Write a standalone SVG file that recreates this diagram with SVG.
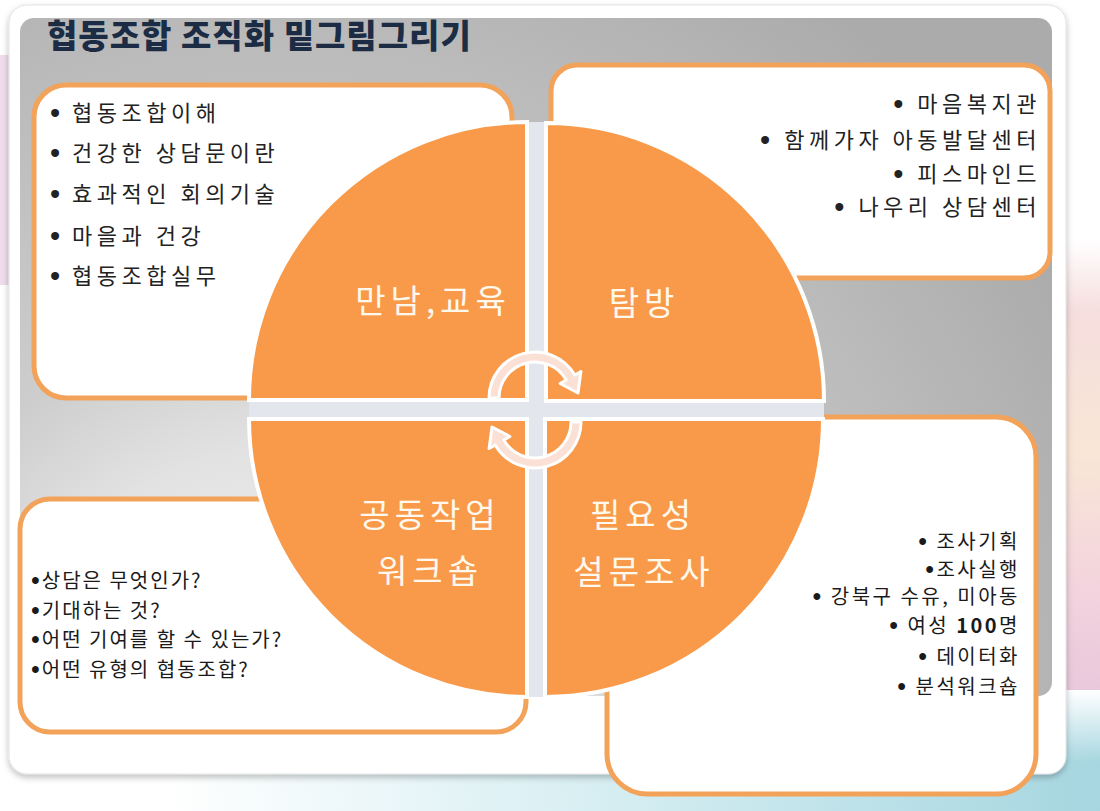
<svg xmlns="http://www.w3.org/2000/svg" width="1100" height="811" viewBox="0 0 1100 811">
<defs>
<style>
.kr{font-family:"Noto Sans CJK KR","Noto Sans",sans-serif;}
.title{font-size:33px;font-weight:900;fill:#1c2c45;letter-spacing:1px;}
.item{font-size:22px;fill:#222;letter-spacing:4.5px;}
.small{font-size:20px;fill:#1a1a1a;letter-spacing:2px;}
.sm2{font-size:20px;fill:#1a1a1a;letter-spacing:2.5px;}
.bul{font-family:"Liberation Sans",sans-serif;font-size:29px;}
.bs{font-family:"Liberation Sans",sans-serif;font-size:25px;}
.lab{font-size:33px;fill:#fff8ec;letter-spacing:5px;text-anchor:middle;}
.box{fill:#fff;stroke:#f2a259;stroke-width:5;}
.quad{fill:#f89a4a;stroke:#ffffff;stroke-width:4;}
.arrow{fill:#fbe0d6;stroke:#ffffff;stroke-width:3;stroke-linejoin:round;}
</style>
<radialGradient id="panelG" gradientUnits="userSpaceOnUse" cx="280" cy="720" r="900">
<stop offset="0" stop-color="#f6f6f6"/>
<stop offset="0.3" stop-color="#e2e2e2"/>
<stop offset="0.45" stop-color="#cdcdcd"/>
<stop offset="0.7" stop-color="#bebebe"/>
<stop offset="1" stop-color="#ababab"/>
</radialGradient>
<linearGradient id="rightG" x1="0" y1="0" x2="0" y2="1">
<stop offset="0" stop-color="#ffffff"/>
<stop offset="0.15" stop-color="#f6dede"/>
<stop offset="0.45" stop-color="#f9e6d6"/>
<stop offset="0.75" stop-color="#f3d3de"/>
<stop offset="1" stop-color="#e6c6da"/>
</linearGradient>
<linearGradient id="bottomG" x1="0" y1="0" x2="1" y2="0">
<stop offset="0.15" stop-color="#ffffff"/>
<stop offset="0.55" stop-color="#d6eef2"/>
<stop offset="1" stop-color="#a6d6e0"/>
</linearGradient>
<linearGradient id="fadeG" x1="0" y1="0" x2="0" y2="1">
<stop offset="0" stop-color="#ffffff" stop-opacity="1"/>
<stop offset="0.6" stop-color="#ffffff" stop-opacity="0"/>
</linearGradient>
<filter id="shadow" x="-5%" y="-5%" width="110%" height="115%">
<feDropShadow dx="0" dy="3" stdDeviation="3" flood-color="#000" flood-opacity="0.25"/>
</filter>
</defs>

<!-- background -->
<rect x="0" y="0" width="1100" height="811" fill="#ffffff"/>
<rect x="0" y="55" width="14" height="230" fill="#efdcec"/>
<rect x="1058" y="240" width="42" height="470" fill="url(#rightG)"/>
<rect x="0" y="690" width="1100" height="121" fill="url(#bottomG)"/>
<rect x="0" y="690" width="1100" height="121" fill="url(#fadeG)"/>

<!-- card and panel -->
<rect x="9" y="5" width="1057" height="769" rx="18" fill="#ffffff" stroke="#e2e2e2" stroke-width="1" filter="url(#shadow)"/>
<rect x="20" y="18" width="1032" height="678" rx="14" fill="url(#panelG)"/>

<text class="kr title" x="47" y="48">협동조합 조직화 밑그림그리기</text>

<!-- text boxes -->
<g id="box-education">
<rect class="box" x="34" y="85" width="478" height="313" rx="32"/>
<text class="kr item"><tspan class="bul" x="50" y="123">•</tspan><tspan x="72" y="121">협동조합이해</tspan></text>
<text class="kr item"><tspan class="bul" x="50" y="163">•</tspan><tspan x="72" y="161">건강한 상담문이란</tspan></text>
<text class="kr item"><tspan class="bul" x="50" y="204">•</tspan><tspan x="72" y="202">효과적인 회의기술</tspan></text>
<text class="kr item"><tspan class="bul" x="50" y="246">•</tspan><tspan x="72" y="244">마을과 건강</tspan></text>
<text class="kr item"><tspan class="bul" x="50" y="286">•</tspan><tspan x="72" y="284">협동조합실무</tspan></text>
</g>

<g id="box-visit">
<rect class="box" x="551" y="65" width="499" height="213" rx="26"/>
<text class="kr item" x="1041" y="112" text-anchor="end"><tspan class="bul" dy="2">•</tspan><tspan dy="-2"> 마음복지관</tspan></text>
<text class="kr item" x="1041" y="148" text-anchor="end"><tspan class="bul" dy="2">•</tspan><tspan dy="-2"> 함께가자 아동발달센터</tspan></text>
<text class="kr item" x="1041" y="182" text-anchor="end"><tspan class="bul" dy="2">•</tspan><tspan dy="-2"> 피스마인드</tspan></text>
<text class="kr item" x="1041" y="215" text-anchor="end"><tspan class="bul" dy="2">•</tspan><tspan dy="-2"> 나우리 상담센터</tspan></text>
</g>

<g id="box-workshop">
<rect class="box" x="20" y="499" width="506" height="233" rx="30"/>
<text class="kr small" x="31" y="588"><tspan class="bs" dy="1">•</tspan><tspan dy="-1">상담은 무엇인가?</tspan></text>
<text class="kr small" x="31" y="618"><tspan class="bs" dy="1">•</tspan><tspan dy="-1">기대하는 것?</tspan></text>
<text class="kr small" x="31" y="647"><tspan class="bs" dy="1">•</tspan><tspan dy="-1">어떤 기여를 할 수 있는가?</tspan></text>
<text class="kr small" x="31" y="677"><tspan class="bs" dy="1">•</tspan><tspan dy="-1">어떤 유형의 협동조합?</tspan></text>
</g>

<g id="box-survey">
<rect class="box" x="607" y="417" width="429" height="377" rx="40"/>
<text class="kr sm2" x="1020" y="549" text-anchor="end"><tspan class="bs" dy="1">•</tspan><tspan dy="-1"> 조사기획</tspan></text>
<text class="kr sm2" x="1020" y="577" text-anchor="end"><tspan class="bs" dy="1">•</tspan><tspan dy="-1">조사실행</tspan></text>
<text class="kr sm2" x="1020" y="604" text-anchor="end"><tspan class="bs" dy="1">•</tspan><tspan dy="-1"> 강북구 수유, 미아동</tspan></text>
<text class="kr sm2" x="1020" y="633" text-anchor="end"><tspan class="bs" dy="1">•</tspan><tspan dy="-1"> 여성 </tspan><tspan font-weight="bold">100</tspan>명</text>
<text class="kr sm2" x="1020" y="664" text-anchor="end"><tspan class="bs" dy="1">•</tspan><tspan dy="-1"> 데이터화</tspan></text>
<text class="kr sm2" x="1020" y="694" text-anchor="end"><tspan class="bs" dy="1">•</tspan><tspan dy="-1"> 분석워크숍</tspan></text>
</g>

<!-- cross gap -->
<rect x="526" y="122" width="21" height="575" fill="#e3e6ec"/>
<rect x="249" y="399" width="575" height="21" fill="#e3e6ec"/>

<!-- quadrants -->
<g id="q-education">
<path class="quad" d="M527 400 L249 400 A278 278 0 0 1 527 122 Z"/>
<text class="kr lab" x="433" y="313">만남,교육</text>
</g>
<g id="q-visit">
<path class="quad" d="M546 401 L546 123 A278 278 0 0 1 824 401 Z"/>
<text class="kr lab" x="644" y="315">탐방</text>
</g>
<g id="q-workshop">
<path class="quad" d="M527 419 L527 697 A278 278 0 0 1 249 419 Z"/>
<text class="kr lab" x="430" y="527">공동작업</text>
<text class="kr lab" x="430" y="583">워크숍</text>
</g>
<g id="q-survey">
<path class="quad" d="M545 419 L823 419 A278 278 0 0 1 545 697 Z"/>
<text class="kr lab" x="643" y="527">필요성</text>
<text class="kr lab" x="644" y="584">설문조사</text>
</g>

<!-- connectors: circular arrows -->
<g id="connectors">
<path class="arrow" d="M499 398 A36 36 0 0 1 566.2 380 L560.1 383.5 L578 393 L580.9 371.5 L574.8 375 A46 46 0 0 0 489 398 Z"/>
<path class="arrow" transform="rotate(180 535 410)" d="M499 398 A36 36 0 0 1 566.2 380 L560.1 383.5 L578 393 L580.9 371.5 L574.8 375 A46 46 0 0 0 489 398 Z"/>
</g>
</svg>
